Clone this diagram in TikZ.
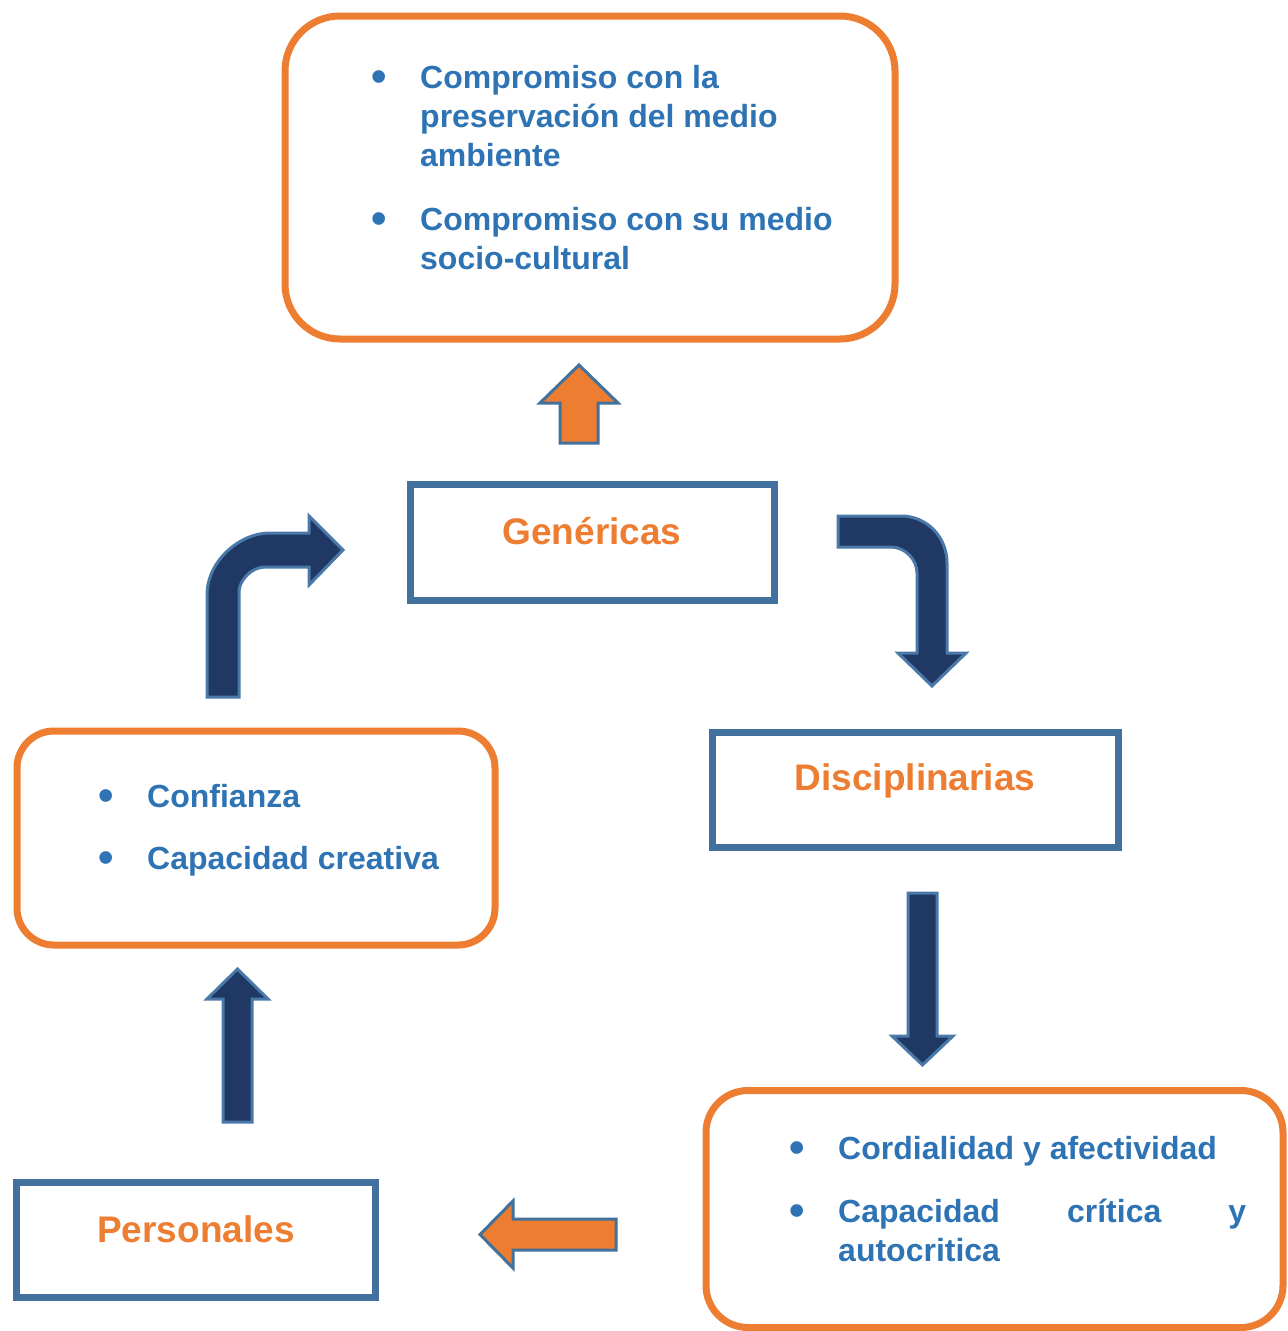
\documentclass[tikz,border=0pt]{standalone}
\usepackage{fontspec}
\setmainfont{Liberation Sans}
\definecolor{orangeC}{HTML}{ED7D31}
\definecolor{blueT}{HTML}{2E74B5}
\definecolor{boxBlue}{HTML}{41719C}
\definecolor{navy}{HTML}{1F3864}
\definecolor{arrowEdge}{HTML}{4A78A8}
\tikzset{
  obox/.style={draw=orangeC, line width=7pt, fill=white, inner sep=0pt, outer sep=0pt},
  lbox/.style={draw=boxBlue, line width=7pt, fill=white, inner sep=0pt, outer sep=0pt},
  itemtxt/.style={anchor=base west, inner sep=0pt, text=blueT, font=\fontsize{32}{39}\selectfont\bfseries},
  bul/.style={anchor=base, inner sep=0pt, text=blueT, font=\fontsize{44}{44}\selectfont\bfseries},
  lbl/.style={anchor=base, inner sep=0pt, text=orangeC, font=\fontsize{37}{44}\selectfont\bfseries},
  navyarrow/.style={fill=navy, draw=arrowEdge, line width=3pt, line join=miter},
  orangearrow/.style={fill=orangeC, draw=boxBlue, line width=3pt, line join=miter}
}
\begin{document}
\begin{tikzpicture}[x=1pt,y=-1pt]
\useasboundingbox[fill=white] (0,0) rectangle (1288,1331);

% rounded orange boxes
\node[obox, minimum width=610pt, minimum height=323pt, rounded corners=55pt] (top) at (590,177.5) {};
\node[obox, minimum width=478pt, minimum height=214pt, rounded corners=37pt] (left) at (256,838) {};
\node[obox, minimum width=577pt, minimum height=237pt, rounded corners=42pt] (br) at (994.5,1209) {};

% blue label boxes
\node[lbox, minimum width=364pt, minimum height=116pt] (gen) at (592,542) {};
\node[lbox, minimum width=406pt, minimum height=115pt] (dis) at (915,789.5) {};
\node[lbox, minimum width=359pt, minimum height=115pt] (per) at (196,1240) {};

\node[lbl] (genT) at (592,544) {Genéricas};
\node[lbl] (disT) at (915,790) {Disciplinarias};
\node[lbl] (perT) at (196,1242) {Personales};

% top box text
\node[bul] (b1) at (379,91.5) {•};
\node[itemtxt] (t1a) at (420,88) {Compromiso con la};
\node[itemtxt] (t1b) at (420,127) {preservación del medio};
\node[itemtxt] (t1c) at (420,166) {ambiente};
\node[bul] (b2) at (379,233.5) {•};
\node[itemtxt] (t2a) at (420,230) {Compromiso con su medio};
\node[itemtxt] (t2b) at (420,269) {socio-cultural};

% left box text
\node[bul] (b3) at (106,810.5) {•};
\node[itemtxt] (t3) at (147,807) {Confianza};
\node[bul] (b4) at (106,872.5) {•};
\node[itemtxt] (t4) at (147,869) {Capacidad creativa};

% bottom right box text
\node[bul] (b5) at (797,1162.5) {•};
\node[itemtxt] (t5) at (838,1159) {Cordialidad y afectividad};
\node[bul] (b6) at (797,1225.5) {•};
\node[itemtxt] (t6a) at (838,1222) {\makebox[408pt][s]{Capacidad crítica y}};
\node[itemtxt] (t6b) at (838,1261.5) {autocritica};

% block arrows
% orange up arrow (Genéricas -> top box)
\draw[orangearrow] (560,443) -- (560,403) -- (540,403) -- (579,365) -- (618,403) -- (598,403) -- (598,443) -- cycle;

% curved arrow left: up then right
\draw[navyarrow] (207,697) -- (207,595)
  .. controls (207,560.2) and (240.8,533) .. (269,533)
  -- (309,533) -- (309,516) -- (343,550) -- (309,585) -- (309,567)
  -- (265,567) .. controls (251.2,567) and (239,580.8) .. (239,592)
  -- (239,697) -- cycle;

% curved arrow right: right then down
\draw[navyarrow] (838,516) -- (901,516)
  .. controls (927,516) and (947,537) .. (947,563)
  -- (947,653) -- (966,653) -- (932,686) -- (898,653) -- (917,653)
  -- (917,573) .. controls (917,559.2) and (904.8,547) .. (891,547)
  -- (838,547) -- cycle;

% straight down arrow
\draw[navyarrow] (908,893) -- (937,893) -- (937,1036) -- (953,1036) -- (922.5,1065) -- (892,1036) -- (908,1036) -- cycle;

% up arrow left
\draw[navyarrow] (223,1122) -- (223,999) -- (207,999) -- (237.5,969) -- (268,999) -- (252,999) -- (252,1122) -- cycle;

% orange left arrow
\draw[orangearrow] (616,1219) -- (513,1219) -- (513,1201) -- (480,1234.5) -- (513,1268) -- (513,1250) -- (616,1250) -- cycle;
\end{tikzpicture}
\end{document}
